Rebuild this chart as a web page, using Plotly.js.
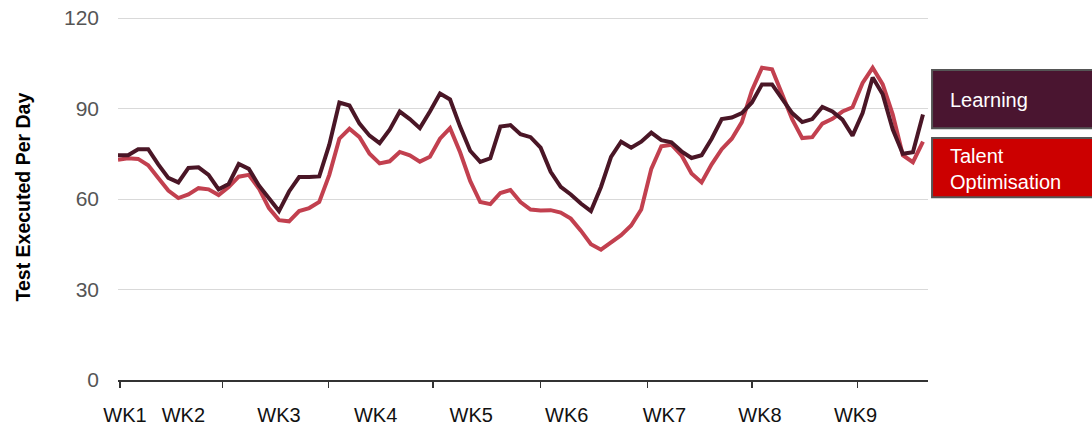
<!DOCTYPE html>
<html>
<head>
<meta charset="utf-8">
<script src="https://cdn.plot.ly/plotly-3.0.1.min.js"></script>
<style>html,body{margin:0;padding:0;background:#fff;}#chart{width:1092px;height:427px;}</style>
</head>
<body>
<div id="chart"></div>
<script>
// Day index 0..80
var learning = [74.5,74.5,76.5,76.5,71.5,67,65.5,70.3,70.5,68,
  63.2,65,71.6,70,64.5,60,56,62.5,67.3,67.3,
  67.5,78,92,91,85,81,78.5,83,89,86.5,
  83.5,89,95,93,84,76,72.3,73.5,84,84.5,
  81.5,80.5,77,69,64,61.5,58.5,56,64,74,
  79,77,79,82,79.5,78.8,75.8,73.6,74.5,80,
  86.5,87,88.5,92,98,98,93,88.5,85.5,86.5,
  90.5,89,86.3,81,88.5,100.3,94.7,83,75,75.5,88];
var talent = [73,73.5,73.3,71.2,67,62.8,60.3,61.5,63.6,63.2,
  61.3,64,67.4,68,63.5,57,53,52.6,56,57,
  59,68,80,83.3,80.5,75,71.8,72.5,75.6,74.5,
  72.4,74,80,83.5,75.5,66,59,58.3,62,63,
  59,56.5,56.2,56.3,55.5,53.5,49.5,45,43.2,45.5,
  48,51.2,56.5,70,77.5,78,74.5,68.5,65.5,71.5,
  76.5,80,85.5,96,103.5,103,95,86.5,80.2,80.5,
  85,86.6,89,90.4,98.5,103.5,98,88,74.5,72.2,79];
var days = learning.map(function(_, i){ return i; });
var tickDays = [0.2, 10.4, 20.9, 31.3, 42, 52.6, 63, 73.5];
var weekLabels = ["WK1","WK2","WK3","WK4","WK5","WK6","WK7","WK8","WK9"];
var weekLabelDays = [0.7, 6.5, 16, 25.6, 35.1, 44.6, 54.3, 63.8, 73.3];
var yTicks = [0, 30, 60, 90, 120];
var seriesNames = ["Learning", "Talent Optimisation"];

var traces = [
  {x: days, y: talent, name: seriesNames[1], type: 'scatter', mode: 'lines',
   line: {color: '#c2404f', width: 4}, hoverinfo: 'skip'},
  {x: days, y: learning, name: seriesNames[0], type: 'scatter', mode: 'lines',
   line: {color: '#4a1626', width: 4}, hoverinfo: 'skip'},
  {x: weekLabelDays, y: weekLabelDays.map(function(){return null;}), xaxis: 'x2',
   type: 'scatter', mode: 'markers', showlegend: false, hoverinfo: 'skip'}
];

var layout = {
  width: 1092, height: 427,
  margin: {l: 118, r: 164, t: 15, b: 47},
  paper_bgcolor: '#fff', plot_bgcolor: '#fff',
  showlegend: false,
  font: {family: 'Liberation Sans, Arial, sans-serif'},
  xaxis: {range: [0, 80.5], showgrid: false, zeroline: false,
    showline: true, linecolor: '#333', linewidth: 1.5,
    tickmode: 'array', tickvals: tickDays, ticktext: tickDays.map(function(){return '';}),
    ticks: 'outside', ticklen: 6, tickcolor: '#333', tickwidth: 1.5},
  xaxis2: {range: [0, 80.5], overlaying: 'x', anchor: 'y', side: 'bottom',
    showgrid: false, zeroline: false, showline: false, ticks: '',
    tickmode: 'array', tickvals: weekLabelDays, ticktext: weekLabels,
    tickfont: {size: 20, color: '#111'}, ticklabelstandoff: 21},
  yaxis: {range: [0, 121], tickmode: 'array', tickvals: yTicks,
    showgrid: true, gridcolor: '#d9d9d9', gridwidth: 1, zeroline: false,
    tickfont: {size: 21, color: '#555'}, ticklabelstandoff: 18, showline: false},
  shapes: [
    {type: 'rect', xref: 'paper', yref: 'paper', x0: 1.005, x1: 1.21, y0: 0.690, y1: 0.849,
     fillcolor: '#4a1530', line: {color: '#555', width: 2}},
    {type: 'rect', xref: 'paper', yref: 'paper', x0: 1.005, x1: 1.21, y0: 0.501, y1: 0.663,
     fillcolor: '#cc0000', line: {color: '#555', width: 2}}
  ],
  annotations: [
    {text: '<b>Test Executed Per Day</b>', xref: 'paper', yref: 'paper',
     x: -0.1185, y: 0.5, textangle: -90, showarrow: false,
     font: {size: 19.5, color: '#000'}, xanchor: 'center', yanchor: 'middle'},
    {text: seriesNames[0], xref: 'paper', yref: 'paper', x: 1.025, y: 0.767,
     xanchor: 'left', yanchor: 'middle', showarrow: false, align: 'left',
     font: {size: 20, color: '#fff'}},
    {text: 'Talent<br>Optimisation', xref: 'paper', yref: 'paper', x: 1.025, y: 0.578,
     xanchor: 'left', yanchor: 'middle', showarrow: false, align: 'left',
     font: {size: 20, color: '#fff'}}
  ]
};

Plotly.newPlot('chart', traces, layout, {displayModeBar: false, staticPlot: true});
</script>
</body>
</html>
